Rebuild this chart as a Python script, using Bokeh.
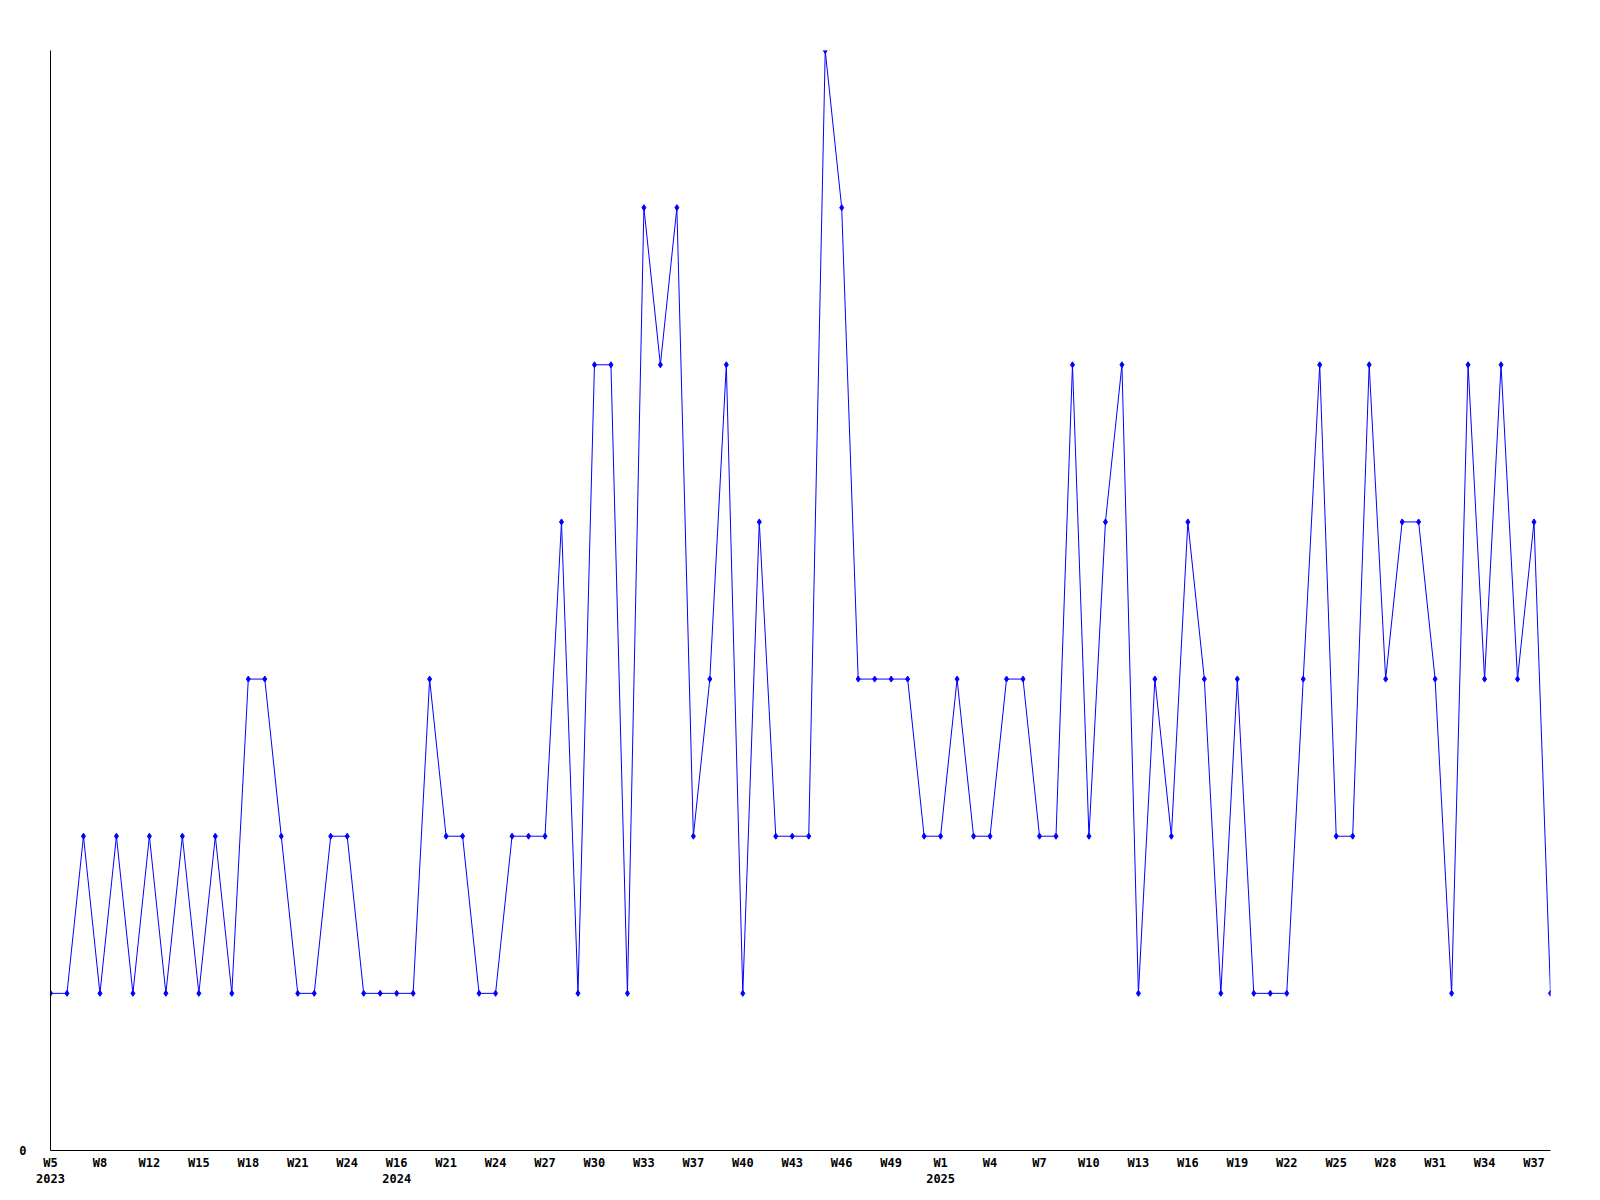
from bokeh.plotting import figure
from bokeh.models import FixedTicker, Range1d
from bokeh.embed import file_html
from bokeh.resources import INLINE

values = [1, 1, 2, 1, 2, 1, 2, 1, 2, 1, 2, 1, 3, 3, 2, 1, 1, 2, 2, 1,
          1, 1, 1, 3, 2, 2, 1, 1, 2, 2, 2, 4, 1, 5, 5, 1, 6, 5, 6, 2,
          3, 5, 1, 4, 2, 2, 2, 7, 6, 3, 3, 3, 3, 2, 2, 3, 2, 2, 3, 3,
          2, 2, 5, 2, 4, 5, 1, 3, 2, 4, 3, 1, 3, 1, 1, 1, 3, 5, 2, 2,
          5, 3, 4, 4, 3, 1, 5, 3, 5, 3, 4, 1]
tick_labels = ["W5\n2023", "W8", "W12", "W15", "W18", "W21", "W24", "W16\n2024",
               "W21", "W24", "W27", "W30", "W33", "W37", "W40", "W43", "W46",
               "W49", "W1\n2025", "W4", "W7", "W10", "W13", "W16", "W19", "W22",
               "W25", "W28", "W31", "W34", "W37"]
tick_step = 3

xs = list(range(len(values)))
ticks = [i * tick_step for i in range(len(tick_labels))]

p = figure(frame_width=1500, frame_height=1100, output_backend="svg",
           toolbar_location=None, min_border_left=50, min_border_top=50,
           min_border_right=20, min_border_bottom=40,
           x_range=Range1d(0, len(values) - 1), y_range=Range1d(0, 7))
p.outline_line_color = None
p.xgrid.visible = False
p.ygrid.visible = False

p.line(xs, values, line_color="#0000ff", line_width=1)
p.scatter(xs, values, marker="diamond", size=6, fill_color="#0000ff", line_color="#0000ff")

for ax in (p.xaxis[0], p.yaxis[0]):
    ax.axis_line_color = "black"
    ax.axis_line_width = 1
    ax.major_tick_line_color = None
    ax.minor_tick_line_color = None
    ax.major_tick_out = 0
    ax.major_tick_in = 0
    ax.major_label_text_font = "DejaVu Sans Mono"
    ax.major_label_text_font_style = "bold"
    ax.major_label_text_font_size = "12px"
    ax.major_label_text_color = "black"

p.xaxis.ticker = FixedTicker(ticks=ticks)
p.xaxis.major_label_overrides = {t: lab for t, lab in zip(ticks, tick_labels)}
p.xaxis.major_label_standoff = 5
p.yaxis.ticker = FixedTicker(ticks=[0])
p.yaxis.major_label_standoff = 24

open("out.html", "w").write(file_html(p, INLINE))
